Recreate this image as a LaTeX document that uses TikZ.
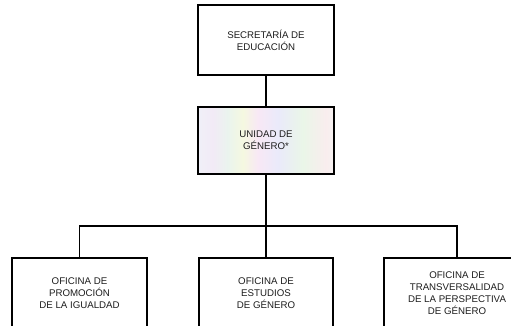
\documentclass[tikz,border=0pt]{standalone}
\usepackage{fontspec}
\setmainfont{Liberation Sans}
\definecolor{txt}{RGB}{30,30,30}
\definecolor{ira}{RGB}{240,240,248}
\definecolor{irb}{RGB}{242,234,246}
\definecolor{irc}{RGB}{234,244,238}
\definecolor{ird}{RGB}{245,248,224}
\definecolor{ire}{RGB}{248,232,245}
\definecolor{irf}{RGB}{234,234,250}
\definecolor{irg}{RGB}{234,246,232}
\definecolor{irh}{RGB}{249,237,238}
\definecolor{iri}{RGB}{246,241,241}
\pgfdeclarehorizontalshading{iris}{100bp}{color(0bp)=(ira); color(25bp)=(ira); color(30.5bp)=(irb); color(36bp)=(irc); color(41.5bp)=(ird); color(47bp)=(ire); color(54.4bp)=(irf); color(63.6bp)=(irg); color(72bp)=(irh); color(75bp)=(iri); color(100bp)=(iri)}
\begin{document}
\begin{tikzpicture}[x=1pt,y=-1pt,
  orgbox/.style={draw=black, line width=1.4pt, align=center, text=txt,
    font=\fontsize{9.7}{11.8}\selectfont, inner sep=0pt},
  link/.style={draw=black, line width=1.4pt}]
\useasboundingbox (0,0) rectangle (511,325);
\clip (0,0) rectangle (511,325);
\fill[white] (0,0) rectangle (511,325);
\node[orgbox, minimum width=136pt, minimum height=70pt] (sec) at (266,40)
  {SECRETARÍA DE\\EDUCACIÓN};
\node[orgbox, minimum width=136pt, minimum height=67pt, shading=iris] (uni) at (266,140.5)
  {UNIDAD DE\\GÉNERO*};
\node[orgbox, minimum width=135pt, minimum height=70pt] (of1) at (79.5,293)
  {OFICINA DE\\PROMOCIÓN\\DE LA IGUALDAD};
\node[orgbox, minimum width=134pt, minimum height=70pt] (of2) at (266,293)
  {OFICINA DE\\ESTUDIOS\\DE GÉNERO};
\node[orgbox, minimum width=146pt, minimum height=70pt] (of3) at (457,293)
  {OFICINA DE\\TRANSVERSALIDAD\\DE LA PERSPECTIVA\\DE GÉNERO};
\coordinate (j) at (266,226);
\draw[link] (sec) -- (uni);
\draw[link] (uni) -- (of2);
\draw[link] (of1.north) |- (j) -| (of3.north);
\end{tikzpicture}
\end{document}
